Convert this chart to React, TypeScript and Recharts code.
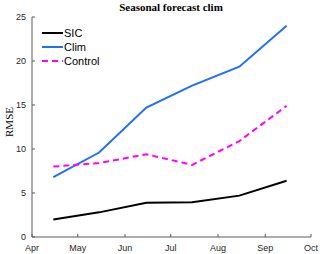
import { Line, LineChart, XAxis, YAxis } from "recharts"

// days since Apr 1
const monthTicks = [0, 30, 61, 91, 122, 153, 183]
const monthLabels = ["Apr", "May", "Jun", "Jul", "Aug", "Sep", "Oct"]
const yTicks = [0, 5, 10, 15, 20, 25]

const days = [14, 44, 75, 105, 136, 167]
const sic = [2.0, 2.8, 3.9, 3.95, 4.7, 6.4]
const clim = [6.8, 9.6, 14.7, 17.2, 19.35, 24.0]
const control = [8.0, 8.4, 9.4, 8.2, 10.9, 14.9]

const data = days.map((d, i) => ({ day: d, SIC: sic[i], Clim: clim[i], Control: control[i] }))

const series = [
    { key: "SIC", color: "#000000", dash: undefined as string | undefined },
    { key: "Clim", color: "#1f6fff", dash: undefined as string | undefined },
    { key: "Control", color: "#ff00ff", dash: "6 4" },
]

const axisColor = "#5a5a5a"
const tickStyle = { fontSize: 9, fill: "#262626", fontFamily: "Liberation Sans, Arial, sans-serif" }

function LegendBox() {
    return (
        <div
            style={{
                position: "absolute", left: 42, top: 26,
                fontFamily: "Liberation Sans, Arial, sans-serif", fontSize: 11, color: "#000",
            }}
        >
            {series.map((s) => (
                <div key={s.key} style={{ display: "flex", alignItems: "center", height: 14 }}>
                    <svg width={22} height={10}>
                        <line x1={0} y1={5} x2={21} y2={5} stroke={s.color} strokeWidth={2} strokeDasharray={s.dash} />
                    </svg>
                    <span>{s.key}</span>
                </div>
            ))}
        </div>
    )
}

export default function App() {
    return (
        <div style={{ position: "absolute", left: 0, top: 0, width: 320, height: 254, background: "#fff" }}>
            <LineChart width={320} height={254} data={data} margin={{ top: 17, right: 9, bottom: 0, left: 0 }}>
                <XAxis
                    dataKey="day"
                    type="number"
                    domain={[0, 183]}
                    ticks={monthTicks}
                    tickFormatter={(v) => monthLabels[monthTicks.indexOf(v)]}
                    height={17}
                    stroke={axisColor}
                    tick={tickStyle}
                    tickSize={-3}
                    tickMargin={11}
                    interval={0}
                />
                <YAxis
                    type="number"
                    domain={[0, 25]}
                    ticks={yTicks}
                    width={32}
                    stroke={axisColor}
                    tick={tickStyle}
                    tickSize={-3}
                    tickMargin={9}
                    interval={0}
                />
                {series.map((s) => (
                    <Line
                        key={s.key}
                        dataKey={s.key}
                        stroke={s.color}
                        strokeWidth={2}
                        strokeDasharray={s.dash}
                        dot={false}
                        isAnimationActive={false}
                    />
                ))}
            </LineChart>
            <LegendBox />
            <div
                style={{
                    position: "absolute", left: 0, width: 342, top: 1, textAlign: "center",
                    fontFamily: "Liberation Serif, Times New Roman, serif", fontWeight: "bold", fontSize: 11,
                }}
            >
                Seasonal forecast clim
            </div>
            <div
                style={{
                    position: "absolute", left: 8.5, top: 122, transform: "translate(-50%, -50%) rotate(-90deg)",
                    fontFamily: "Liberation Serif, Times New Roman, serif", fontSize: 11, whiteSpace: "nowrap",
                }}
            >
                RMSE
            </div>
        </div>
    )
}
